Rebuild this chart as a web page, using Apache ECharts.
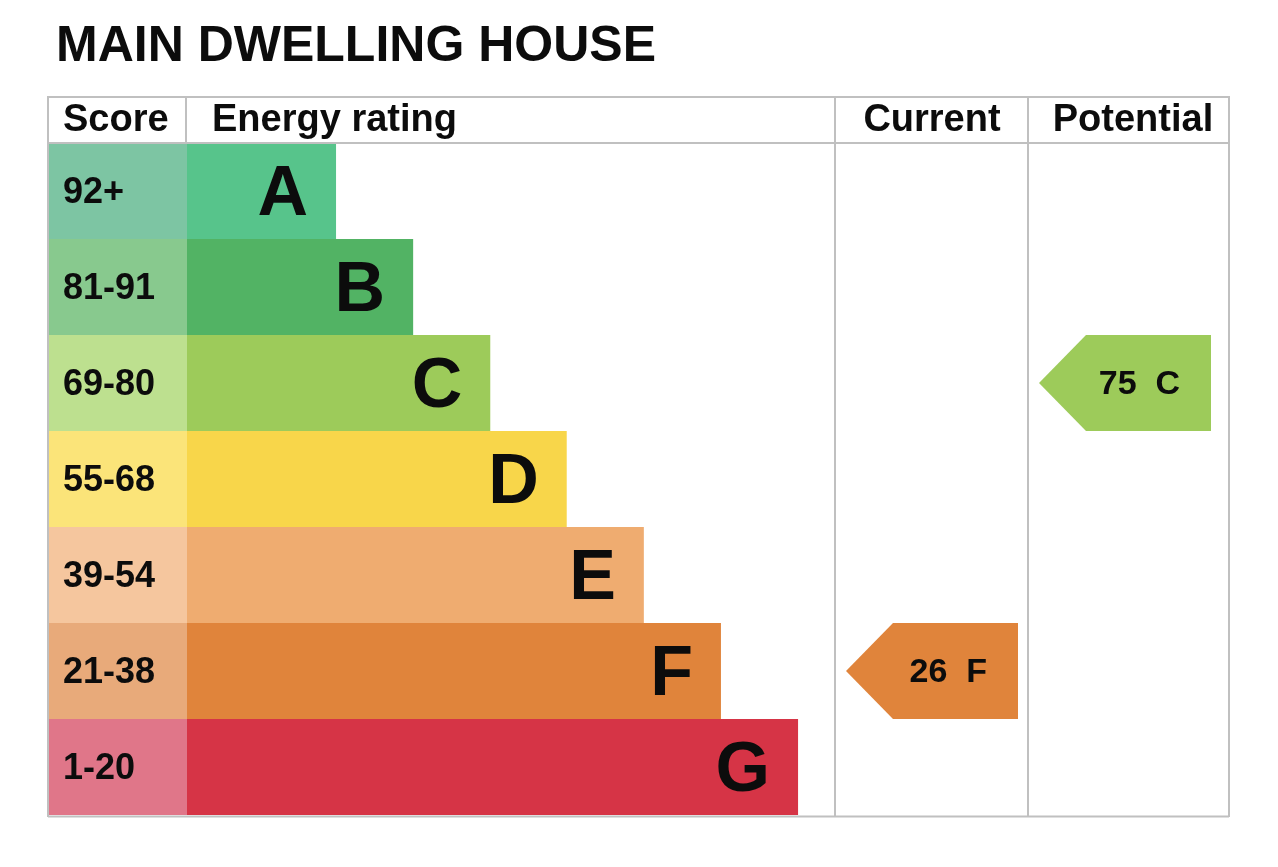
<!DOCTYPE html>
<html>
<head>
<meta charset="utf-8">
<script src="https://cdn.jsdelivr.net/npm/echarts@6/dist/echarts.min.js"></script>
<style>
  html, body { margin: 0; padding: 0; background: #fff; }
  #chart { width: 1278px; height: 867px; }
</style>
</head>
<body>
<div id="chart"></div>
<script>
// EPC 等级表 - 数据
const bandLetters = ['A', 'B', 'C', 'D', 'E', 'F', 'G'];
const scoreRanges = ['92+', '81-91', '69-80', '55-68', '39-54', '21-38', '1-20'];
const bandMin = [92, 81, 69, 55, 39, 21, 1];
// 每个等级色条的长度（占 Energy rating 列宽的百分比）
const barLength = [23, 34.9, 46.8, 58.6, 70.5, 82.4, 94.3];
const currentScore = 26;
const potentialScore = 75;

const bandColors = ['#57c48b', '#52b364', '#9dcb5a', '#f8d64a', '#efac70', '#e0843b', '#d63446'];
const scoreCellColors = ['#7dc5a3', '#88c98e', '#bde08f', '#fbe479', '#f5c69e', '#e8aa7a', '#e07689'];

const FONT = '"Liberation Sans", Arial, Helvetica, sans-serif';
const LINE = '#c0c0c0';
const INK = '#0c0c0c';

function bandOf(score) {
  return bandMin.findIndex(m => score >= m);
}

//箭头
function arrowItem(params, api) {
  const row = api.value(1);
  const c = api.coord([0, row]);
  const h = api.size([0, 1])[1];
  const x0 = c[0] + 10, w = 172, y0 = c[1] - h / 2, d = h / 2 - 1;
  return {
    type: 'group',
    children: [{
      type: 'polygon',
      shape: { points: [[x0, c[1]], [x0 + d, y0], [x0 + w, y0], [x0 + w, y0 + h], [x0 + d, y0 + h]] },
      style: { fill: bandColors[row] }
    }, {
      type: 'text',
      style: {
        text: api.value(2) + '  ' + bandLetters[row],
        x: x0 + w - 31, y: c[1] + 2,
        align: 'right', verticalAlign: 'middle',
        font: 'bold 34px ' + FONT, fill: INK
      }
    }]
  };
}

const gridTop = 143, gridBottom = 52;
const grids = [
  { left: 48, top: gridTop, width: 139, bottom: gridBottom },
  { left: 187, top: gridTop, width: 648, bottom: gridBottom },
  { left: 836, top: gridTop, width: 192, bottom: gridBottom },
  { left: 1029, top: gridTop, right: 49, bottom: gridBottom }
];

const yAxes = grids.map((g, i) => ({
  type: 'category', gridIndex: i, data: bandLetters, inverse: true, show: false
}));
const xAxes = grids.map((g, i) => ({
  type: 'value', gridIndex: i, min: 0, max: i === 0 ? 1 : 100, show: false
}));

function hLine(y, x1, x2) {
  return { type: 'line', z: 100, shape: { x1: x1, y1: y, x2: x2, y2: y }, style: { stroke: LINE, lineWidth: 2 } };
}
function vLine(x, y1, y2) {
  return { type: 'line', z: 100, shape: { x1: x, y1: y1, x2: x, y2: y2 }, style: { stroke: LINE, lineWidth: 2 } };
}
function header(text, x, align) {
  return {
    type: 'text', z: 100,
    style: { text: text, x: x, y: 121, align: align, verticalAlign: 'middle', font: 'bold 38px ' + FONT, fill: INK }
  };
}

const option = {
  animation: false,
  backgroundColor: '#fff',
  title: {
    text: 'MAIN DWELLING HOUSE',
    left: 56, top: 22, padding: 0,
    textStyle: { fontFamily: FONT, fontWeight: 'bold', fontSize: 50, color: INK }
  },
  grid: grids,
  xAxis: xAxes,
  yAxis: yAxes,
  graphic: [
    hLine(97, 48, 1229), hLine(143, 48, 1229), hLine(816.5, 48, 1229),
    vLine(48, 96, 817), vLine(1229, 96, 817),
    vLine(186, 96, 143), vLine(835, 96, 817), vLine(1028, 96, 817),
    header('Score', 63, 'left'),
    header('Energy rating', 212, 'left'),
    header('Current', 932, 'center'),
    header('Potential', 1133, 'center')
  ],
  series: [{
    type: 'bar', xAxisIndex: 0, yAxisIndex: 0,
    barWidth: '100%',
    data: scoreRanges.map((s, i) => ({ value: 1, itemStyle: { color: scoreCellColors[i] } })),
    label: {
      show: true, position: 'insideLeft', distance: 15, offset: [0, 2],
      formatter: p => scoreRanges[p.dataIndex],
      fontFamily: FONT, fontWeight: 'bold', fontSize: 36, color: INK
    }
  }, {
    type: 'bar', xAxisIndex: 1, yAxisIndex: 1,
    barWidth: '100%',
    data: barLength.map((v, i) => ({ value: v, itemStyle: { color: bandColors[i] } })),
    label: {
      show: true, position: 'insideRight', distance: 28, offset: [0, 5],
      formatter: p => bandLetters[p.dataIndex],
      fontFamily: FONT, fontWeight: 'bold', fontSize: 70, color: INK
    }
  }, {
    type: 'custom', xAxisIndex: 2, yAxisIndex: 2,
    renderItem: arrowItem,
    data: [[0, bandOf(currentScore), currentScore]]
  }, {
    type: 'custom', xAxisIndex: 3, yAxisIndex: 3,
    renderItem: arrowItem,
    data: [[0, bandOf(potentialScore), potentialScore]]
  }]
};

const myChart = echarts.init(document.getElementById('chart'));
myChart.setOption(option);
window.addEventListener('resize', function () {
  myChart.resize();
});
</script>
</body>
</html>
